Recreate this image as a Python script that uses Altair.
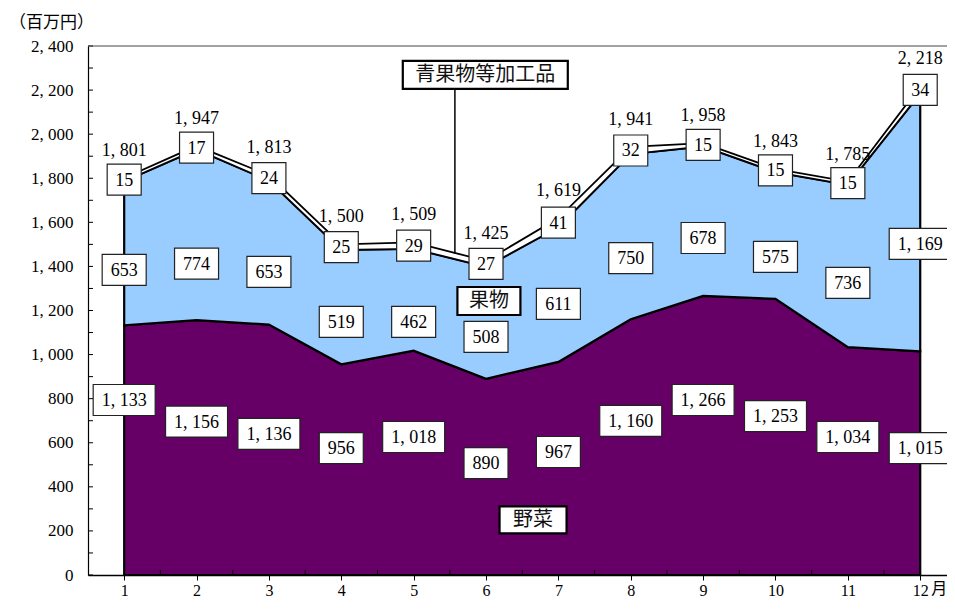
import altair as alt
import pandas as pd

# ---- data ----
months = list(range(1, 13))
vegetables = [1133, 1156, 1136, 956, 1018, 890, 967, 1160, 1266, 1253, 1034, 1015]
fruits = [653, 774, 653, 519, 462, 508, 611, 750, 678, 575, 736, 1169]
processed = [15, 17, 24, 25, 29, 27, 41, 32, 15, 15, 15, 34]
totals = [1801, 1947, 1813, 1500, 1509, 1425, 1619, 1941, 1958, 1843, 1785, 2218]

# heights (data units) at which the original places the value boxes
veg_label_pos = [794, 696, 640, 576, 626, 508, 558, 699, 794, 721, 626, 576]
fruit_label_pos = [1384, 1413, 1375, 1148, 1148, 1080, 1230, 1438, 1529, 1443, 1325, 1502]

series_names = ["野菜", "果物", "青果物等加工品"]
series_label_x = [6.65, 6.04, 5.99]
series_label_y = [250, 1243, 2269]
leader_x = [5.57]
leader_y = [2205]
leader_y2 = [1456]

y_unit = "（百万円）"
x_unit = "月"

W, H = 859, 529
FONT_NUM = "Liberation Serif"
FONT_JP = "Noto Sans CJK JP"

x_scale = alt.Scale(domain=[0.5, 12.37], nice=False, zero=False)
y_scale = alt.Scale(domain=[0, 2400], nice=False)
x_axis = alt.Axis(values=months, format="d", title=None, grid=False, tickSize=5,
                  tickColor="black", domainColor="black", domainWidth=1.5,
                  labelFont=FONT_NUM, labelFontSize=16, labelColor="black",
                  labelPadding=2, labelFlush=False)
y_axis = alt.Axis(values=list(range(0, 2401, 200)), title=None, grid=False,
                  labelExpr="replace(format(datum.value, ',d'), ',', ', ')",
                  ticks=False, domainColor="black", domainWidth=1.2,
                  labelFont=FONT_NUM, labelFontSize=17, labelColor="black",
                  labelPadding=15)


def X(field):
    return alt.X(f"{field}:Q", scale=x_scale, axis=x_axis)


def Y(field):
    return alt.Y(f"{field}:Q", scale=y_scale, axis=y_axis)


# ---- stacked bands ----
veg_top = vegetables
fruit_top = [v + f for v, f in zip(vegetables, fruits)]
proc_top = [t + p for t, p in zip(fruit_top, processed)]

bands = pd.DataFrame({
    "month": months * 3,
    "band": ["veg"] * 12 + ["fruit"] * 12 + ["proc"] * 12,
    "base": [0] * 12 + veg_top + fruit_top,
    "top": veg_top + fruit_top + proc_top,
})

fills = {"veg": "#660066", "fruit": "#99CCFF", "proc": "#FFFFFF"}
widths = {"veg": 2.2, "fruit": 2.2, "proc": 1.8}
area_layers = []
for b in ["veg", "fruit", "proc"]:
    area_layers.append(
        alt.Chart(bands[bands.band == b]).mark_area(
            fill=fills[b], stroke="black", strokeWidth=widths[b], opacity=1,
            fillOpacity=1, strokeJoin="miter"
        ).encode(x=X("month"), y=Y("top"), y2=alt.Y2("base"))
    )


# ---- value boxes ----
def box_path(w, h):
    return f"M{-w/2},{-h/2}H{w/2}V{h/2}H{-w/2}Z"


def fmt(v):
    return f"{v:,}".replace(",", ", ")


def box_w(txt):
    return {1: 26, 2: 34, 3: 44}.get(len(txt), 62)


rows = []
for i, m in enumerate(months):
    for val, pos in [(vegetables[i], veg_label_pos[i]),
                     (fruits[i], fruit_label_pos[i]),
                     (processed[i], fruit_top[i] + processed[i] / 2)]:
        t = fmt(val)
        rows.append({"month": m, "pos": pos, "text": t, "shape": box_path(box_w(t), 31)})
labels = pd.DataFrame(rows)

boxes = alt.Chart(labels).mark_point(
    filled=True, fill="white", stroke="#222", strokeWidth=1.2, size=4, opacity=1,
    fillOpacity=1, strokeOpacity=1
).encode(x=X("month"), y=Y("pos"), shape=alt.Shape("shape:N", scale=None, legend=None))

box_text = alt.Chart(labels).mark_text(
    font=FONT_NUM, fontSize=18, color="black", align="center", baseline="middle", dy=1
).encode(x=X("month"), y=Y("pos"), text="text:N")

tot_df = pd.DataFrame({"month": months, "total": totals,
                       "text": [fmt(t) for t in totals]})
total_text = alt.Chart(tot_df).mark_text(
    font=FONT_NUM, fontSize=18, color="black", align="center", baseline="middle", dy=-27
).encode(x=X("month"), y=Y("total"), text="text:N")

# ---- series name boxes ----
name_df = pd.DataFrame({
    "name": series_names, "x": series_label_x, "y": series_label_y,
    "shape": [box_path(67, 27), box_path(63, 28), box_path(165, 28)],
})
leader_df = pd.DataFrame({"x": leader_x, "y": leader_y, "y2": leader_y2})
leader = alt.Chart(leader_df).mark_rule(color="black", strokeWidth=1.5).encode(
    x=X("x"), y=Y("y"), y2=alt.Y2("y2"))
name_boxes = alt.Chart(name_df).mark_point(
    filled=True, fill="white", stroke="black", strokeWidth=2.2, size=4, opacity=1,
    fillOpacity=1, strokeOpacity=1
).encode(x=X("x"), y=Y("y"), shape=alt.Shape("shape:N", scale=None, legend=None))
name_text = alt.Chart(name_df).mark_text(
    font=FONT_JP, fontSize=20, color="#111", align="center", baseline="middle", dy=0
).encode(x=X("x"), y=Y("y"), text="name:N")

# ---- inward minor ticks and frame ----
ytick_df = pd.DataFrame({"v": list(range(0, 2401, 100))})
yticks = alt.Chart(ytick_df).mark_rule(color="black", strokeWidth=1).encode(
    y=Y("v"), x=alt.value(0), x2=alt.value(5))
xtick_df = pd.DataFrame({"v": [m + 0.5 for m in months[:-1]]})
xticks = alt.Chart(xtick_df).mark_rule(color="black", strokeWidth=1).encode(
    x=X("v"), y=alt.value(H), y2=alt.value(H - 5))
top_border = alt.Chart(pd.DataFrame({"a": [0]})).mark_rule(color="#444", strokeWidth=1).encode(
    x=alt.value(0), x2=alt.value(W), y=alt.value(0))

unit_df = pd.DataFrame({"t": [y_unit]})
y_unit_text = alt.Chart(unit_df).mark_text(
    font=FONT_JP, fontSize=17, color="black", align="left", baseline="middle"
).encode(x=alt.value(-79), y=alt.value(-23), text="t:N")
month_df = pd.DataFrame({"t": [x_unit], "m": [12]})
x_unit_text = alt.Chart(month_df).mark_text(
    font=FONT_JP, fontSize=16, color="black", align="center", baseline="top", dx=19
).encode(x=X("m"), y=alt.value(H + 6), text="t:N")

chart = alt.layer(
    *area_layers, xticks, yticks, top_border, leader,
    boxes, box_text, total_text, name_boxes, name_text, y_unit_text, x_unit_text
).properties(
    width=W, height=H,
    autosize=alt.AutoSizeParams(type="none"),
    padding={"left": 80, "top": 38, "right": 0, "bottom": 26},
    background="white",
).configure_view(stroke=None)

chart.save("out.html", embed_options={"renderer": "svg", "actions": False})
